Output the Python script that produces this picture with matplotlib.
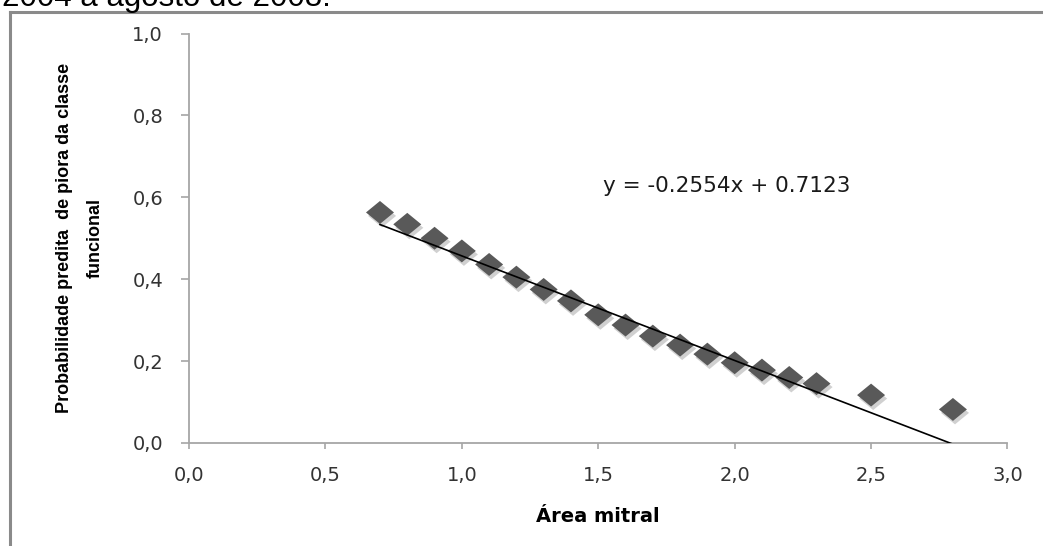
import matplotlib
matplotlib.use("Agg")
import matplotlib.pyplot as plt
import matplotlib.patheffects as pe
from matplotlib.lines import Line2D

# Área mitral (cm²) vs. probabilidade predita
area = [0.7, 0.8, 0.9, 1.0, 1.1, 1.2, 1.3, 1.4, 1.5, 1.6, 1.7, 1.8, 1.9,
        2.0, 2.1, 2.2, 2.3, 2.5, 2.8]
prob = [0.563, 0.534, 0.500, 0.469, 0.436, 0.405, 0.375, 0.347, 0.313,
        0.288, 0.261, 0.239, 0.217, 0.196, 0.178, 0.160, 0.145, 0.117, 0.082]

# linear trend
slope, intercept = -0.2554, 0.7123
trend_x = [0.7, 2.8]
trend_y = [slope * x + intercept for x in trend_x]

xticks = [0.0, 0.5, 1.0, 1.5, 2.0, 2.5, 3.0]
yticks = [0.0, 0.2, 0.4, 0.6, 0.8, 1.0]

W, H = 1043, 546
PT = 0.72  # points per pixel at dpi 100
fig = plt.figure(figsize=(W / 100, H / 100), dpi=100)
fig.patch.set_facecolor('white')

# caption line cut by the top edge
fig.text(2 / W, 1 - 6 / H, '2004 a agosto de 2008.', fontsize=22.5,
         family='Liberation Sans', va='baseline', ha='left', color='black')

# outer chart frame
frame = dict(color='#8a8a8a', lw=2.2, transform=fig.transFigure)
fig.add_artist(Line2D([9.5 / W, 9.5 / W], [1 - 12 / H, 0], **frame))
fig.add_artist(Line2D([9.5 / W, 1], [1 - 12 / H, 1 - 12 / H], **frame))

ax = fig.add_axes([189 / W, 103 / H, (1007.5 - 189) / W, (443 - 33.5) / H])

rhombus = [(-1.22, 0), (0, 1), (1.22, 0), (0, -1), (-1.22, 0)]
ax.plot(area, prob, linestyle='none', marker=rhombus, ms=28 * PT,
        color='#595959', markeredgewidth=0, zorder=3,
        path_effects=[pe.SimplePatchShadow(offset=(1.5, -2.5), shadow_rgbFace='#666666', alpha=0.3),
                      pe.Normal()])
ax.plot(trend_x, trend_y, color='black', lw=1.2, zorder=4)

ax.text(1.519, 0.628, 'y = -0.2554x + 0.7123', fontsize=15.5, family='DejaVu Sans',
        ha='left', va='center', color='#1a1a1a')

ax.set_xlim(0, 3.0)
ax.set_ylim(0, 1.0)
ax.set_xticks(xticks)
ax.set_yticks(yticks)
ax.set_xticklabels([f'{t:.1f}'.replace('.', ',') for t in xticks])
ax.set_yticklabels([f'{t:.1f}'.replace('.', ',') for t in yticks])

for side in ('top', 'right'):
    ax.spines[side].set_visible(False)
for side in ('left', 'bottom'):
    ax.spines[side].set_color('#a6a6a6')
    ax.spines[side].set_linewidth(1.3)

ax.tick_params(axis='x', length=6 * PT, width=1.2, color='#a6a6a6', pad=17 * PT,
               labelsize=14, labelcolor='#333333')
ax.tick_params(axis='y', length=8 * PT, width=1.2, color='#a6a6a6', pad=18 * PT,
               labelsize=14, labelcolor='#333333')

ax.set_xlabel('Área mitral', fontsize=14, fontweight='bold', va='top')
ax.xaxis.set_label_coords(0.5, -0.156)
ax.set_ylabel('Probabilidade predita  de piora da classe\nfuncional',
              fontsize=13, fontweight='bold', family='Liberation Sans',
              linespacing=2.05)
ax.yaxis.set_label_coords(-0.104, 0.5)

fig.savefig('out.png', dpi=100)
